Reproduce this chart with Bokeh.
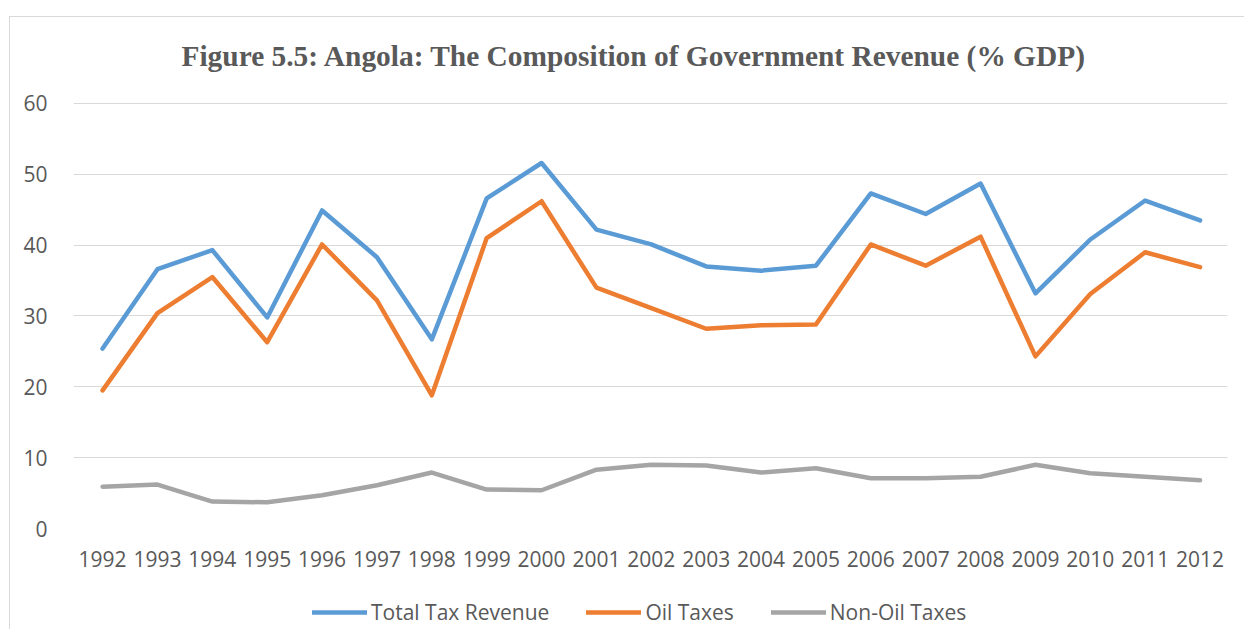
from bokeh.plotting import figure
from bokeh.layouts import column
from bokeh.models import FixedTicker, Legend, LegendItem, ColumnDataSource, Range1d, Title
from bokeh.embed import file_html
from bokeh.resources import INLINE

years = list(range(1992, 2013))
total_tax = [25.4, 36.6, 39.3, 29.8, 44.9, 38.3, 26.7, 46.6, 51.6, 42.2, 40.1,
             37.0, 36.4, 37.1, 47.3, 44.4, 48.7, 33.2, 40.8, 46.3, 43.5]
oil_taxes = [19.5, 30.4, 35.5, 26.3, 40.1, 32.2, 18.8, 41.0, 46.2, 34.0, 31.1,
             28.2, 28.7, 28.8, 40.1, 37.1, 41.2, 24.3, 33.1, 39.0, 36.9]
non_oil_taxes = [5.9, 6.2, 3.8, 3.7, 4.7, 6.1, 7.9, 5.5, 5.4, 8.3, 9.0,
                 8.9, 7.9, 8.5, 7.1, 7.1, 7.3, 9.0, 7.8, 7.3, 6.8]
y_ticks = [0, 10, 20, 30, 40, 50, 60]
series_names = ["Total Tax Revenue", "Oil Taxes", "Non-Oil Taxes"]
series_colors = ["#5B9BD5", "#ED7D31", "#A5A5A5"]
title_text = "Figure 5.5: Angola: The Composition of Government Revenue (% GDP)"

src = ColumnDataSource(dict(year=years, total=total_tax, oil=oil_taxes, nonoil=non_oil_taxes))
cols = ["total", "oil", "nonoil"]

p = figure(width=1234, height=562, x_range=(1991.47, 2012.5), y_range=(0, 60.14),
           output_backend="svg", toolbar_location=None, title=None,
           min_border_left=63, min_border_right=17, min_border_top=85, min_border_bottom=51)
p.outline_line_color = None
p.background_fill_color = "white"
p.border_fill_color = "white"

# blank spacer between frame and title, then the title itself
p.add_layout(Title(text=" ", text_font_size="24px", standoff=0), "above")
p.add_layout(Title(text=title_text, align="left", offset=108, standoff=4,
                   text_font="Liberation Serif", text_font_style="bold",
                   text_font_size="29.4px", text_color="#595959"), "above")

p.xgrid.grid_line_color = None
p.ygrid.grid_line_color = "#D9D9D9"
p.ygrid.grid_line_width = 1
p.ygrid.ticker = FixedTicker(ticks=y_ticks)

for ax in (p.xaxis, p.yaxis):
    ax.axis_line_color = None
    ax.major_tick_line_color = None
    ax.minor_tick_line_color = None
    ax.major_label_text_font = "Open Sans"
    ax.major_label_text_font_size = "21px"
    ax.major_label_text_color = "#595959"
p.xaxis.ticker = FixedTicker(ticks=years)
p.yaxis.ticker = FixedTicker(ticks=y_ticks)
p.xaxis.major_label_standoff = 16
p.yaxis.major_label_standoff = 20

for c, col in zip(cols, series_colors):
    p.line("year", c, source=src, line_color=col, line_width=4.5,
           line_cap="round", line_join="round")

# legend strip below the chart (its lines sit outside its visible range)
lg = figure(width=1234, height=50, x_range=Range1d(1991.47, 2012.5), y_range=Range1d(100, 101),
            output_backend="svg", toolbar_location=None,
            x_axis_location=None, y_axis_location=None,
            min_border_left=0, min_border_right=0, min_border_top=0, min_border_bottom=0)
lg.grid.grid_line_color = None
lg.outline_line_color = None
lg.border_fill_color = "white"
items = []
for n, c, col in zip(series_names, cols, series_colors):
    r = lg.line("year", c, source=src, line_color=col, line_width=4.5, line_cap="round")
    items.append(LegendItem(label=n, renderers=[r]))
legend = Legend(items=items, orientation="horizontal", location=(239, 3),
                glyph_width=55, glyph_height=20, label_standoff=4, spacing=37,
                padding=0, margin=0, border_line_color=None, background_fill_alpha=0,
                label_text_font="Open Sans", label_text_font_size="21px",
                label_text_color="#595959")
lg.add_layout(legend, "center")

layout = column(p, lg, spacing=0,
                styles={"border-left": "1px solid #d9d9d9", "border-top": "1px solid #d9d9d9",
                        "margin-left": "9px", "margin-top": "16px"})
open("out.html", "w").write(file_html(layout, INLINE))
